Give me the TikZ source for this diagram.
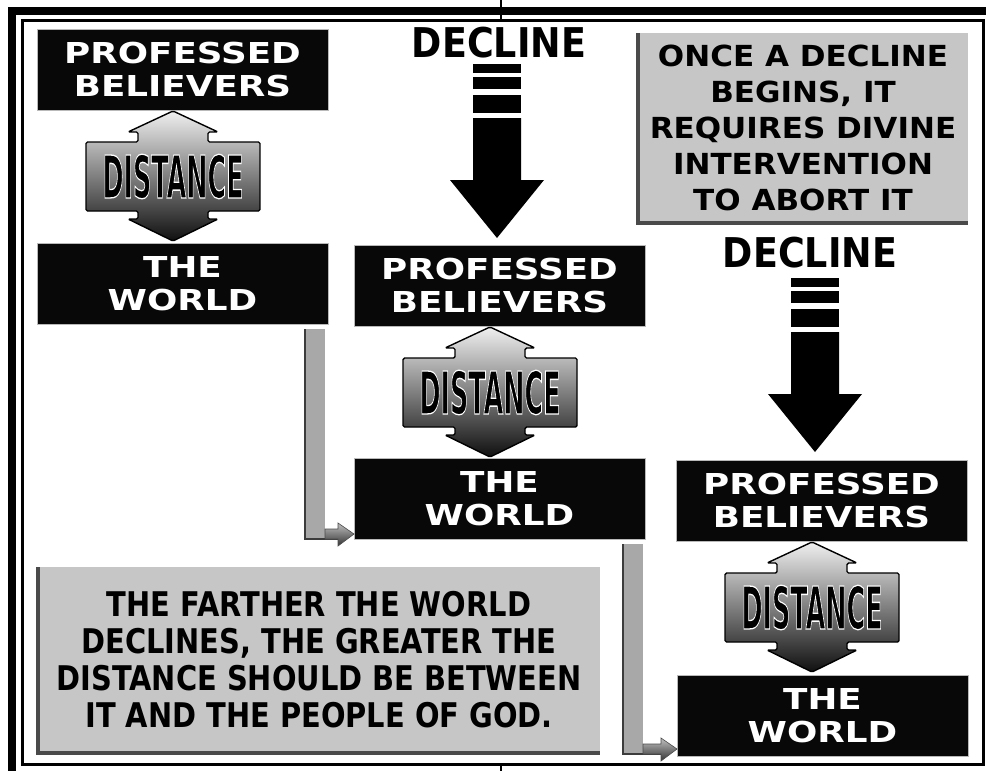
\documentclass[tikz,border=0pt]{standalone}
\usepackage{fontspec}
\usepackage{graphicx}
\usetikzlibrary{calc}
\newfontfamily\fdv{DejaVu Sans}
\newfontfamily\flib{Liberation Sans}
\definecolor{boxblack}{HTML}{080808}
\definecolor{notegray}{HTML}{C6C6C6}
\definecolor{noteedge}{HTML}{4A4A4A}
\definecolor{bargray}{HTML}{A8A8A8}
\definecolor{baredge}{HTML}{3C3C3C}
\newcommand\wideln[1]{\scalebox{1.24}[1]{#1}}
\newcommand\noteln[1]{\scalebox{1.07}[1]{#1}}
\newcommand\condln[1]{\scalebox{0.85}[1]{#1}}
\newcommand\whiteoutline[1]{\special{pdf:literal direct 2 Tr 1.3 w 1 1 1 RG}#1\special{pdf:literal direct 0 Tr 0 0 0 RG}}
\begin{document}
\begin{tikzpicture}[x=1pt,y=-1pt,
  blackbox/.style={fill=boxblack, draw=gray!55, line width=0.8pt,
    minimum width=291pt, minimum height=81pt, inner sep=0pt, outer sep=0pt,
    anchor=north west, text=white, align=center,
    font=\fdv\bfseries\fontsize{28.8}{32.5}\selectfont},
  notebox/.style={fill=notegray, inner sep=0pt, outer sep=0pt,
    anchor=north west, text=black, align=center},
  noteedgeline/.style={draw=noteedge, line width=4pt},
  decltext/.style={inner sep=0pt, text=black,
    font=\fdv\bfseries\fontsize{41}{41}\selectfont},
  distfill/.style={draw=black, line width=1.4pt, rounded corners=1.5pt,
    top color=black!6, bottom color=black!94},
  disttext/.style={inner sep=0pt, text=black,
    font=\fdv\bfseries\fontsize{59}{59}\selectfont},
  barfill/.style={fill=bargray},
  baredgeline/.style={draw=baredge, line width=2.5pt},
  barhead/.style={draw=black!70, line width=0.6pt, top color=black!25, bottom color=black!80},
  distarrow/.pic={
    \draw[distfill] (0,0) -- (45,21) -- (35,21) -- (35,31) -- (87,31) -- (87,100)
      -- (35,100) -- (35,108) -- (45,108) -- (0,130) -- (-45,108) -- (-35,108)
      -- (-35,100) -- (-87,100) -- (-87,31) -- (-35,31) -- (-35,21) -- (-45,21) -- cycle;
    \node[disttext] (-t) at (0,65.5) {\scalebox{0.43}[1]{\whiteoutline{DISTANCE}}};
  },
  declarrow/.pic={
    \fill[black] (-24,-174) rectangle (24,-165);
    \fill[black] (-24,-161) rectangle (24,-149);
    \fill[black] (-24,-143) rectangle (24,-125);
    \fill[black] (-24,-120) -- (24,-120) -- (24,-58) -- (47,-58) -- (0,0)
      -- (-47,-58) -- (-24,-58) -- cycle;
  }
]
\useasboundingbox (0,0) rectangle (987,771);
\fill[white] (0,0) rectangle (987,771);

% frame
\fill[black] (8,7) rectangle (16,771);
\fill[black] (8,7) rectangle (986,15);
\draw[black, line width=3pt] (22.5,20) rectangle (983,764.5);
\draw[black, line width=2.5pt] (501,0) -- (501,20);
\draw[black, line width=2.5pt] (501,764.5) -- (501,771);

% black boxes
\node[blackbox] (pb1) at (37,29) {\wideln{PROFESSED}\\\wideln{BELIEVERS}};
\node[blackbox] (tw1) at (37,243) {\wideln{THE}\\\wideln{WORLD}};
\node[blackbox] (pb2) at (354,245) {\wideln{PROFESSED}\\\wideln{BELIEVERS}};
\node[blackbox] (tw2) at (354,458) {\wideln{THE}\\\wideln{WORLD}};
\node[blackbox] (pb3) at (676,460) {\wideln{PROFESSED}\\\wideln{BELIEVERS}};
\node[blackbox] (tw3) at (677,675) {\wideln{THE}\\\wideln{WORLD}};

% distance arrows
\pic (d1) at ($(pb1.south)+(-9.5,1)$) {distarrow};
\pic (d2) at ($(pb2.south)+(-9.5,1)$) {distarrow};
\pic (d3) at ($(pb3.south)+(-9.5,1)$) {distarrow};

% decline arrows
\node[decltext] (decl1) at (499,43) {\scalebox{0.89}[1]{DECLINE}};
\pic (a1) at ($(pb2.north)+(-2.5,-7)$) {declarrow};
\node[decltext] (decl2) at (810,253) {\scalebox{0.89}[1]{DECLINE}};
\pic (a2) at ($(pb3.north)+(-6.5,-8)$) {declarrow};

% notes
\node[notebox, minimum width=330pt, minimum height=190pt,
  font=\fdv\bfseries\fontsize{29}{36}\selectfont] (note1) at (638,33)
  {\noteln{ONCE A DECLINE}\\\noteln{BEGINS, IT}\\\noteln{REQUIRES DIVINE}\\\noteln{INTERVENTION}\\\noteln{TO ABORT IT}};
\draw[noteedgeline] (note1.north west) -- (note1.south west) -- (note1.south east);
\node[notebox, minimum width=562pt, minimum height=186pt,
  font=\fdv\bfseries\fontsize{34}{37}\selectfont] (note2) at (38,567)
  {\condln{THE FARTHER THE WORLD}\\\condln{DECLINES, THE GREATER THE}\\\condln{DISTANCE SHOULD BE BETWEEN}\\\condln{IT AND THE PEOPLE OF GOD.}};
\draw[noteedgeline] (note2.north west) -- (note2.south west) -- (note2.south east);

% elbow connectors
\coordinate (e1s) at ($(tw1.south east)+(-23,5)$);
\coordinate (e1t) at ($(tw2.south west)+(0,-5)$);
\coordinate (e2s) at ($(tw2.south east)+(-22,5)$);
\coordinate (e2t) at ($(tw3.south west)+(0,-7)$);
\foreach \s/\t in {e1s/e1t, e2s/e2t}{
  \fill[barfill] let \p1=(\s), \p2=(\t) in (\x1,\y1) rectangle (\x1+20pt,\y2-5pt);
  \draw[baredgeline] let \p1=(\s), \p2=(\t) in (\x1,\y1) -- (\x1,\y2-5pt) -- (\x2-15pt,\y2-5pt);
  \draw[barhead] let \p1=(\s), \p2=(\t) in (\x1+20pt,\y2+5pt) -- (\x2-16pt,\y2+5pt)
    -- (\x2-16pt,\y2+11pt) -- (\x2,\y2) -- (\x2-16pt,\y2-12pt) -- (\x2-16pt,\y2-5pt)
    -- (\x1+20pt,\y2-5pt) -- cycle;
}
\end{tikzpicture}
\end{document}
